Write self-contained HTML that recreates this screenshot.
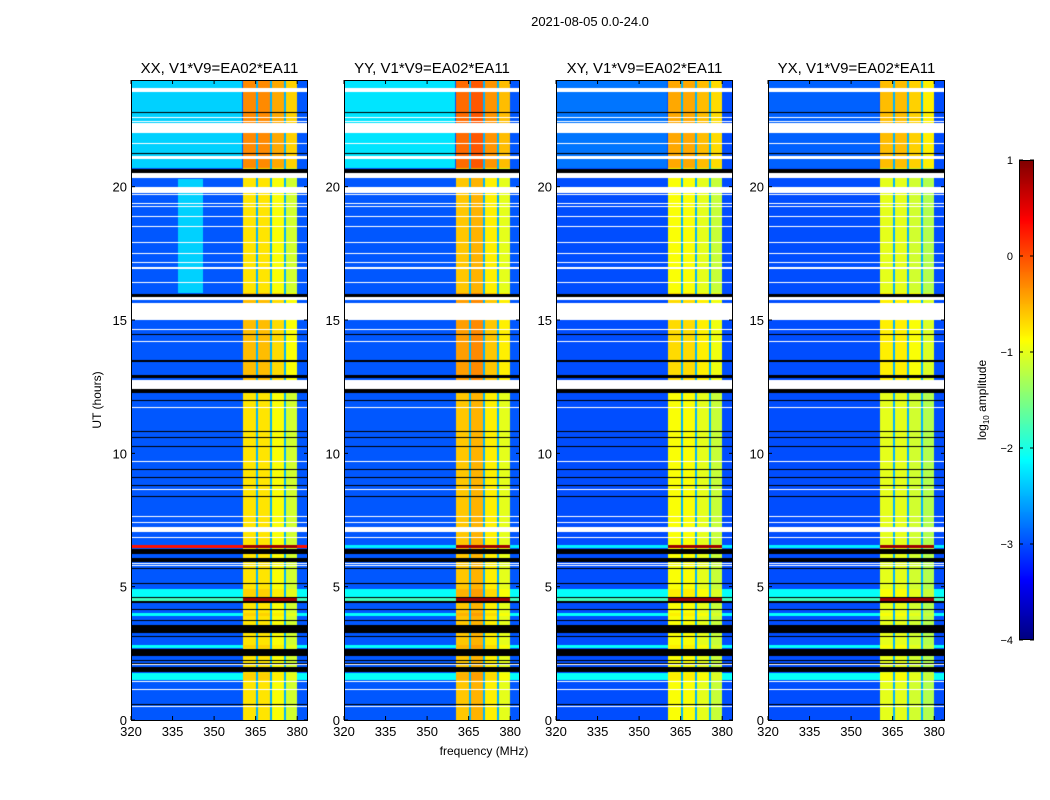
<!DOCTYPE html>
<html><head><meta charset="utf-8"><style>
body{margin:0;background:#fff;width:1050px;height:800px;overflow:hidden;position:relative;font-family:"Liberation Sans",sans-serif}
canvas{position:absolute}
svg{position:absolute;left:0;top:0}
</style></head><body>
<canvas id="c0" width="177" height="640" style="left:131px;top:80px"></canvas>
<canvas id="c1" width="176" height="640" style="left:344px;top:80px"></canvas>
<canvas id="c2" width="177" height="640" style="left:556px;top:80px"></canvas>
<canvas id="c3" width="177" height="640" style="left:768px;top:80px"></canvas>
<canvas id="cb" width="15" height="480" style="left:1019px;top:160px"></canvas>
<svg id="ov" width="1050" height="800"></svg>
<script>
// ---- data ----
const panelTitles = ["XX, V1*V9=EA02*EA11","YY, V1*V9=EA02*EA11","XY, V1*V9=EA02*EA11","YX, V1*V9=EA02*EA11"];
const panelLeft = [131,344,556,768];
const freqTicks = [320,335,350,365,380];
const hourTicks = [0,5,10,15,20];
const cbTicks = [1,0,-1,-2,-3,-4];
// RFI blocks [startMHz,endMHz]
const rfiBlocks = [[360.4,365.1],[365.8,370.2],[370.9,375.2],[375.9,379.9]];
const rfiLevel = [[-0.75,-0.75,-0.9,-1.1],[-0.6,-0.5,-0.8,-1.0],[-0.9,-0.9,-1.0,-1.15],[-1.0,-1.0,-1.1,-1.25]];
const bgLevel = [-2.95,-2.95,-3.0,-3.0];
const topBgLevel = [-2.35,-2.25,-2.8,-2.9];
// row bands [startHour,endHour,kind]  W=flagged white, K=black, L=light, H=hot, G=green/hot
const rowBands = [
[23.55,23.70,"W"],[22.76,22.80,"K"],[22.57,22.61,"W"],[22.42,22.46,"W"],[22.01,22.39,"W"],
[21.60,21.64,"W"],[21.22,21.26,"K"],[21.04,21.15,"W"],[20.51,20.66,"K"],[20.33,20.51,"W"],
[19.76,19.99,"W"],[19.68,19.72,"W"],[19.34,19.38,"W"],[19.22,19.26,"W"],[18.85,18.89,"W"],
[18.47,18.51,"W"],[17.87,17.91,"W"],[17.49,17.53,"W"],[17.15,17.19,"W"],[16.93,16.97,"W"],[16.37,16.41,"W"],
[15.86,15.97,"K"],[15.75,15.86,"W"],[15.00,15.64,"W"],[14.62,14.66,"W"],[14.44,14.48,"K"],[14.17,14.21,"W"],
[13.43,13.50,"K"],[12.83,12.94,"K"],[12.41,12.75,"W"],[12.26,12.41,"K"],
[11.96,12.00,"K"],[11.70,11.74,"W"],[10.80,10.84,"K"],[10.57,10.61,"K"],[10.23,10.27,"K"],
[9.68,9.72,"W"],[9.36,9.40,"K"],[9.06,9.10,"K"],[8.62,8.66,"W"],[8.76,8.80,"K"],[8.35,8.39,"K"],
[7.61,7.65,"W"],[7.39,7.43,"W"],[7.05,7.24,"W"],[6.82,6.86,"W"],
[6.45,6.56,"H"],[6.22,6.41,"K"],[5.92,6.07,"K"],[5.86,5.90,"W"],[5.79,5.83,"W"],[5.66,5.70,"K"],[5.10,5.14,"K"],
[4.61,4.91,"L"],[4.57,4.61,"K"],[4.46,4.57,"G"],[4.40,4.46,"K"],[4.14,4.18,"K"],[3.90,4.01,"L"],[3.71,3.75,"K"],
[3.26,3.56,"K"],[3.11,3.15,"K"],[2.70,2.81,"L"],[2.40,2.66,"K"],[2.21,2.25,"K"],[2.10,2.14,"K"],[2.06,2.10,"W"],
[1.80,1.99,"K"],[1.50,1.76,"L"],[1.42,1.46,"W"],[1.12,1.16,"W"],[0.56,0.60,"K"],[0.48,0.52,"W"]
];
// ---- axes ----
const W=177, H=640, fMin=320, fMax=383.9, hMax=24;
const xS = f => (f-fMin)/(fMax-fMin)*W;
const yS = h => H - h/hMax*H;
function jet(v){let t=Math.max(0,Math.min(1,(v+4)/5));const c=x=>Math.round(255*Math.max(0,Math.min(1,x)));
return [c(1.5-Math.abs(4*t-3)),c(1.5-Math.abs(4*t-2)),c(1.5-Math.abs(4*t-1))];}
function kindAt(h){for(const b of rowBands){if(h>=b[0]&&h<b[1])return b[2];}return null;}
function secOff(h){if(h>20.7)return 0.45;if(h>16&&h<20.3)return 0;if(h>12.5&&h<16)return 0.2;return 0;}
function val(p,h,f){
 const k=kindAt(h);
 if(k==="W")return "W"; if(k==="K")return "K";
 let bi=-1; rfiBlocks.forEach((b,i)=>{if(f>=b[0]&&f<b[1])bi=i;});
 const inR = f>=rfiBlocks[0][0]&&f<rfiBlocks[3][1];
 if(k==="H") return inR?0.85:(p===0?0.3:-2.2);
 if(k==="G") return inR?0.85:-1.8;
 if(bi>=0) return rfiLevel[p][bi]+secOff(h)+(k==="L"?0.1:0);
 if(inR) return -2.5;
 if(k==="L") return -2.1;
 if(h>20.7 && f<360) return topBgLevel[p];
 if(p===0 && h>16 && h<20.3 && f>337 && f<346) return -2.35;
 return bgLevel[p];
}
for(let p=0;p<4;p++){
 const cv=document.getElementById("c"+p), ctx=cv.getContext("2d"), w=cv.width;
 const img=ctx.createImageData(w,H);
 for(let y=0;y<H;y++){const h=(H-y-0.5)/H*hMax;
  for(let x=0;x<w;x++){const f=fMin+(x+0.5)/W*(fMax-fMin);
   const v=val(p,h,f);let c;
   if(v==="W")c=[255,255,255];else if(v==="K")c=[0,0,0];else c=jet(v);
   const i=(y*w+x)*4;img.data[i]=c[0];img.data[i+1]=c[1];img.data[i+2]=c[2];img.data[i+3]=255;}}
 ctx.putImageData(img,0,0);
}
{const cv=document.getElementById("cb"),ctx=cv.getContext("2d");
 for(let y=0;y<480;y++){const v=1-(y+0.5)/480*5;const c=jet(v);ctx.fillStyle=`rgb(${c})`;ctx.fillRect(0,y,15,1);}}
// ---- overlay ----
const NS="http://www.w3.org/2000/svg", ov=document.getElementById("ov");
function el(t,a,txt){const e=document.createElementNS(NS,t);for(const k in a)e.setAttribute(k,a[k]);if(txt!==undefined)e.textContent=txt;ov.appendChild(e);return e;}
let e=el("text",{x:590,y:26,"text-anchor":"middle","font-size":13},"2021-08-05 0.0-24.0");


panelTitles.forEach((t,p)=>{
 const L=panelLeft[p], pw=p===1?176:177;
 let r=el("rect",{x:L+0.5,y:80.5,width:pw-1,height:H,fill:"none",stroke:"#000"});
 
 
 let tt=el("text",{x:L+pw/2,y:73,"text-anchor":"middle","font-size":15},t);
 
 
 freqTicks.forEach(f=>{const x=L+xS(f);
  el("line",{x1:x,x2:x,y1:720,y2:716,stroke:"#000"});el("line",{x1:x,x2:x,y1:80,y2:84,stroke:"#000"});
  let l=el("text",{x:x,y:736,"text-anchor":"middle","font-size":13},String(f));
  
  });
 hourTicks.forEach(h=>{const y=80+yS(h);
  el("line",{x1:L,x2:L+4,y1:y,y2:y,stroke:"#000"});el("line",{x1:L+pw-4,x2:L+pw,y1:y,y2:y,stroke:"#000"});
  let l=el("text",{x:L-4,y:y+5,"text-anchor":"end","font-size":13},String(h));
  
  });
});
e=el("text",{x:484,y:755,"text-anchor":"middle","font-size":12},"frequency (MHz)");


e=el("text",{x:101,y:400,"text-anchor":"middle","font-size":12,transform:"rotate(-90 101 400)"},"UT (hours)");


e=el("rect",{x:1019.5,y:160.5,width:14,height:479,fill:"none",stroke:"#000"});


cbTicks.forEach(v=>{const y=160+(1-v)/5*480;
 el("line",{x1:1019,x2:1023,y1:y,y2:y,stroke:"#000"});el("line",{x1:1030,x2:1034,y1:y,y2:y,stroke:"#000"});
 let l=el("text",{x:1013,y:y+4,"text-anchor":"end","font-size":11},v<0?"\u2212"+(-v):String(v));
 
 });
e=el("text",{x:986,y:400,"text-anchor":"middle","font-size":12,transform:"rotate(-90 986 400)"});


e.innerHTML='log<tspan font-size="8" dy="3">10</tspan><tspan dy="-3"> amplitude</tspan>';
</script>
</body></html>
